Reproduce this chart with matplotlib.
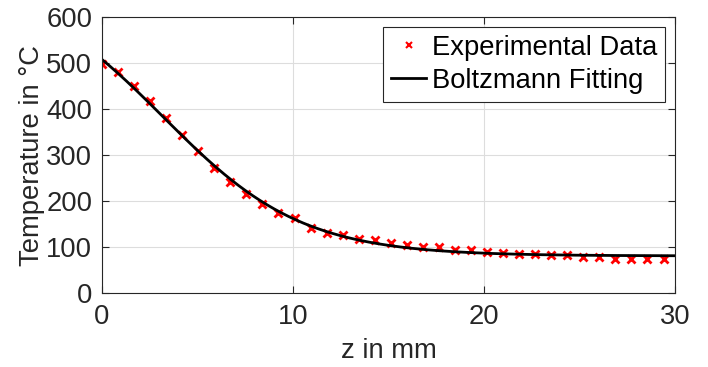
import numpy as np
import matplotlib
matplotlib.use("Agg")
import matplotlib.pyplot as plt

plt.rcParams['font.family'] = ['Liberation Sans', 'DejaVu Sans']

# measured points (z in mm, temperature in degC)
z_mm = [0.00, 0.84, 1.68, 2.52, 3.36, 4.20, 5.04, 5.88, 6.72, 7.56, 8.40, 9.24,
        10.08, 10.92, 11.76, 12.60, 13.44, 14.28, 15.12, 15.96, 16.80, 17.64,
        18.48, 19.32, 20.16, 21.00, 21.84, 22.68, 23.52, 24.36, 25.20, 26.04,
        26.88, 27.72, 28.56, 29.40]
temp_c = [497, 481, 450, 418, 381, 344, 308, 272, 242, 215, 193, 175,
          164, 141, 131, 126, 118, 115, 109, 105, 101, 99,
          94, 93, 89, 87, 84, 84, 83, 83, 78, 78,
          75, 75, 73, 73]

z = np.array(z_mm)
t = np.array(temp_c)

# Boltzmann fit: T = A2 + (A1 - A2) / (1 + exp((z - z0) / dz))
best = None
for z0 in np.linspace(1, 9, 161):
    for dz in np.linspace(1, 6, 201):
        s = 1 / (1 + np.exp((z - z0) / dz))
        M = np.column_stack([s, 1 - s])
        coef, res, _, _ = np.linalg.lstsq(M, t, rcond=None)
        err = np.sum((M @ coef - t) ** 2)
        if best is None or err < best[0]:
            best = (err, z0, dz, coef)
_, z0, dz, (A1, A2) = best

zf = np.linspace(0, 30, 400)
tf = A2 + (A1 - A2) / (1 + np.exp((zf - z0) / dz))

fs = 19.7
fig = plt.figure(figsize=(7.08, 3.67), dpi=100)
ax = fig.add_axes([102 / 708, 1 - 293 / 367, 573 / 708, 276 / 367])

ax.plot(z, t, 'x', color='red', markersize=6, markeredgewidth=2, label='Experimental Data')
ax.plot(zf, tf, color='black', linewidth=2, label='Boltzmann Fitting')

ax.set_xlim(0, 30)
ax.set_ylim(0, 600)
ax.set_xticks([0, 10, 20, 30])
ax.set_yticks(range(0, 601, 100))
ax.grid(True, color='#dddddd', linewidth=0.8)
ax.set_axisbelow(True)
ax.tick_params(direction='in', top=True, right=True, length=5, width=0.8,
               labelsize=fs, colors='#262626')
ax.tick_params(axis='x', pad=8)
ax.tick_params(axis='y', pad=7)
for sp in ax.spines.values():
    sp.set_color('#262626')
    sp.set_linewidth(0.8)

ax.set_xlabel('z in mm', fontsize=fs, color='#262626', labelpad=6)
ax.set_ylabel('Temperature in °C', fontsize=fs, color='#262626', labelpad=1)

leg = ax.legend(loc='upper right', fontsize=fs, frameon=True, fancybox=False,
                edgecolor='#262626', framealpha=1, borderpad=0.3,
                handlelength=1.3, handletextpad=0.2, labelspacing=0.25,
                borderaxespad=0.35)
leg.get_frame().set_linewidth(0.8)
mk = leg.legend_handles[0]
mk.set_markersize(4.5)
mk.set_markeredgewidth(1.5)

fig.savefig('out.png', dpi=100)
